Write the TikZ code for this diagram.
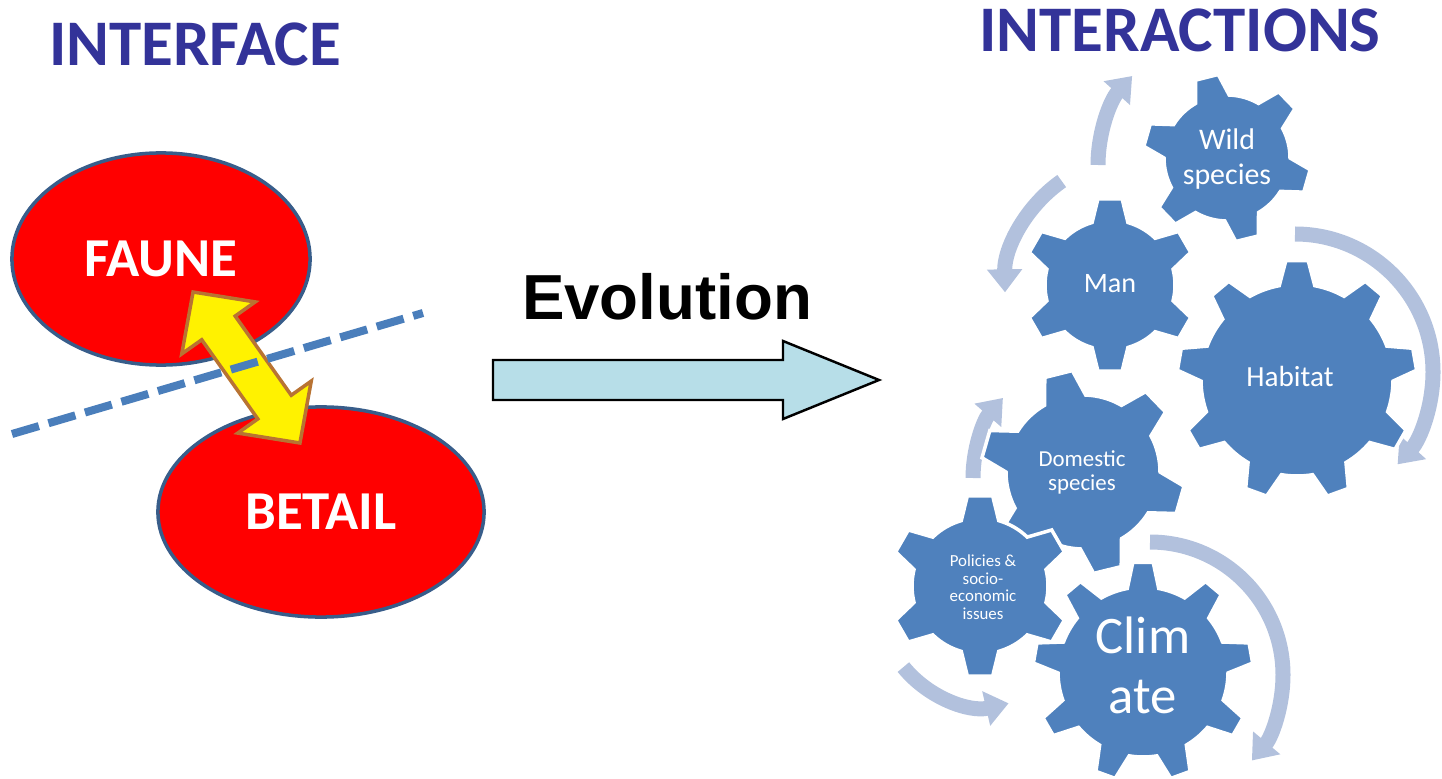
\documentclass[tikz,border=0pt]{standalone}
\usepackage{fontspec}
\setmainfont{Carlito}
\newfontfamily\arialfont{Liberation Sans}
\usetikzlibrary{arrows.meta, shapes.geometric}

\definecolor{titleblue}{RGB}{51,51,153}
\definecolor{gearblue}{RGB}{79,129,189}
\definecolor{ringblue}{RGB}{178,193,221}
\definecolor{rimblue}{RGB}{56,93,138}
\definecolor{dashblue}{RGB}{74,126,187}
\definecolor{copper}{RGB}{184,115,51}
\definecolor{shaftcyan}{RGB}{183,222,232}

% Gear: centre x, centre y, outer radius, body radius, teeth, rotation
\newcommand{\drawgear}[6]{%
	\begin{scope}[shift = {(#1, #2)}, rotate = #6]
		\pgfmathsetmacro{\gstep}{360 / #5}
		\pgfmathsetmacro{\gtip}{48 / #5}
		\pgfmathsetmacro{\gbase}{96 / #5}
		\filldraw [gear] ({\gbase-\gstep}:#4)
			\foreach \k in {1,...,#5} {
				arc [start angle = {(\k-2)*\gstep+\gbase}, end angle = {(\k-1)*\gstep-\gbase}, radius = #4]
				-- ({(\k-1)*\gstep-\gtip}:#3) -- ({(\k-1)*\gstep+\gtip}:#3)
				-- ({(\k-1)*\gstep+\gbase}:#4)
			} -- cycle;
	\end{scope}
}

\begin{document}
\begin{tikzpicture}[x = 0.01cm, y = 0.01cm,
	title/.style = {text = titleblue, inner sep = 0, font = \bfseries\fontsize{18.5}{22}\selectfont},
	blob/.style = {ellipse, fill = red, draw = rimblue, line width = 1pt, text = white, font = \bfseries\fontsize{15.6}{18}\selectfont},
	gear/.style = {fill = gearblue, draw = white, line width = 1pt},
	cog/.style = {text = white, align = center, inner sep = 0},
	ring/.style = {draw = ringblue, line width = 0.15cm, -{Triangle[width = 0.34cm, length = 0.23cm]}}]

\useasboundingbox (0, 0) rectangle (1442, 778);

% Titles

\node (interface) at (195, 734) [title] {INTERFACE};
\node (interactions) at (1180, 748) [title] {INTERACTIONS};

% Interface

\node (faune) at (161, 519) [blob, minimum width = 2.98cm, minimum height = 2.12cm] {FAUNE};
\node (betail) at (321, 266) [blob, minimum width = 3.26cm, minimum height = 2.10cm] {BETAIL};

\begin{scope}[shift = {(246.5, 410.5)}, rotate = -54.7]
	\filldraw [fill = yellow, draw = copper, line width = 1pt]
		(-92.5, 0) -- (-48.5, 45) -- (-48.5, 20.5) -- (48.5, 20.5) -- (48.5, 45)
		-- (92.5, 0) -- (48.5, -45) -- (48.5, -20.5) -- (-48.5, -20.5) -- (-48.5, -45) -- cycle;
\end{scope}

\draw [dashblue, line width = 0.08cm, dash pattern = on 0.28cm off 0.1cm] (12, 344) -- (423, 465);

% Evolution

\node (evolution) at (667, 481) [font = \arialfont\bfseries\fontsize{18.1}{21}\selectfont] {Evolution};
\draw [fill = shaftcyan, draw = black, line width = 0.7pt]
	(493, 378) -- (783, 378) -- (783, 359) -- (879, 398) -- (783, 437) -- (783, 418) -- (493, 418) -- cycle;

% Turning arrows

\coordinate (wildturn) at (1231, 613);
\coordinate (manturn) at (1138, 488);
\coordinate (habitatturn) at (1295, 406);
\coordinate (domesticturn) at (1095, 300);
\coordinate (policiesturn) at (985, 177);
\coordinate (climateturn) at (1150, 103);

\draw [ring] ([shift = {(180:133)}] wildturn) arc [start angle = 180, end angle = 138, radius = 133];
\draw [ring] ([shift = {(125:133)}] manturn) arc [start angle = 125, end angle = 181, radius = 133];
\draw [ring] ([shift = {(90:138)}] habitatturn) arc [start angle = 90, end angle = -42, radius = 138];
\draw [ring] ([shift = {(180:122)}] domesticturn) arc [start angle = 180, end angle = 139, radius = 122];
\draw [ring] ([shift = {(219:105)}] policiesturn) arc [start angle = 219, end angle = 283, radius = 105];
\draw [ring] ([shift = {(90:133)}] climateturn) arc [start angle = 90, end angle = -40, radius = 133];

% Gears

\drawgear{1227}{620}{84}{63}{6}{104}
\drawgear{1110}{493}{87}{65}{6}{90}
\drawgear{1297}{398}{120}{96}{9}{90}
\drawgear{1083}{306}{102}{77}{6}{104}
\drawgear{980}{192}{91}{68}{6}{90}
\drawgear{1143}{106}{110}{85}{9}{90}

\node (wild) at (1227, 619) [cog, font = \fontsize{8.5}{10}\selectfont] {Wild\\species};
\node (man) at (1110, 494) [cog, font = \fontsize{8}{10}\selectfont] {Man};
\node (habitat) at (1290, 402) [cog, font = \fontsize{8.3}{10}\selectfont] {Habitat};
\node (domestic) at (1082, 306) [cog, font = \fontsize{6.5}{6.8}\selectfont] {Domestic\\species};
\node (policies) at (983, 191) [cog, font = \fontsize{4.8}{5}\selectfont] {Policies \&\\socio-\\economic\\issues};
\node (climate) at (1143, 113) [cog, font = \fontsize{15}{17}\selectfont] {Clim\\ate};

\end{tikzpicture}
\end{document}
